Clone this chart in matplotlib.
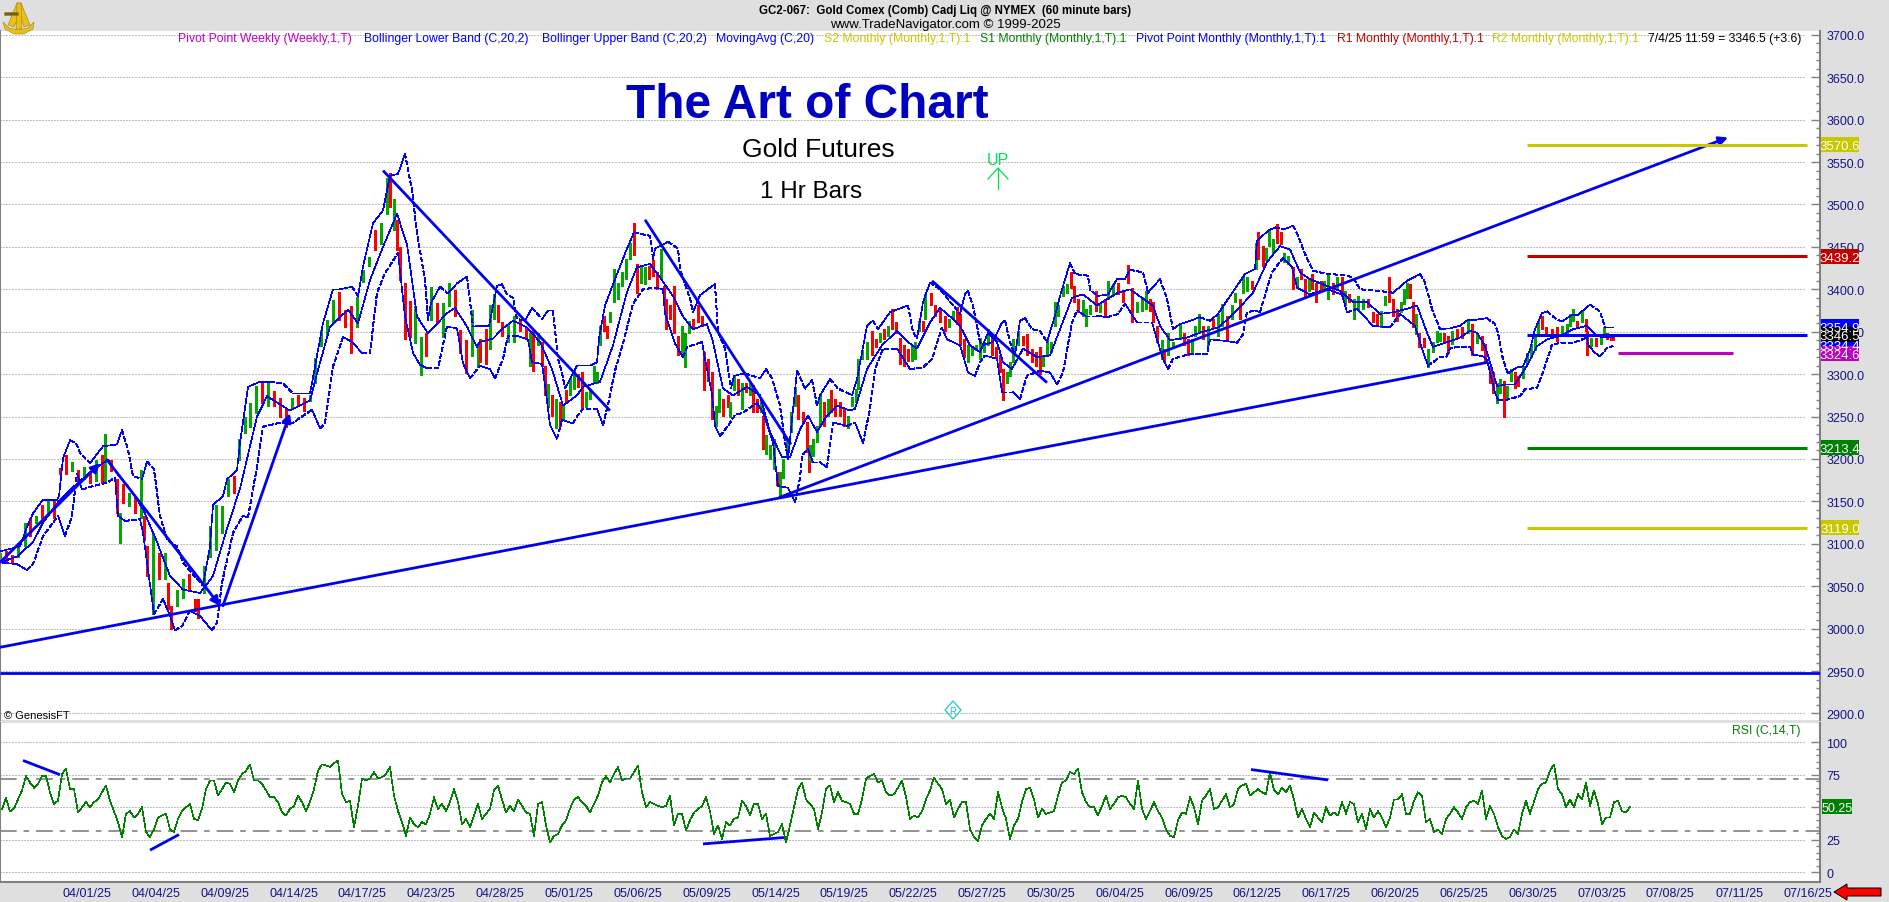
import matplotlib
matplotlib.use("Agg")
import matplotlib.pyplot as plt
from matplotlib.patches import Rectangle, Polygon, FancyArrowPatch
from matplotlib.transforms import Affine2D, blended_transform_factory

# ---------- DATA ----------
bar_no = [
 0,6,12,18,25,30,36,42,48,54, 60,66,72,78,84,90,96,102,105,111,
 117,120,123,129,135,141,144,147,153,159, 165,168,171,177,183,189,195,198,204,210,
 216,222,228,234,239,245,250,256,262,268, 274,280,286,292,298,304,310,315,321,327,
 333,339,345,351,357,363,369,375,381,387, 390,394,397,400,405,410,415,421,426,431,
 437,443,449,455,460,466,472,478,
 480,486,490,494,498,502,508,514,520,526, 530,533,538,542,545,548,552,556,560,563,
 566,570,574,578,582,586,590,594,597,600, 604,607,610,614,618,622,626,630,634,637,
 641,645,649,653,657,661,664,666,670,674, 678,682,685,689,693,698,702,704,708,712,
 716,719,723,728,730,734,738,742,746,750, 753,757,761,763,766,770,774,777,780,783,
 787,791,795,798,803,807,809,810,813,817, 820,824,828,831,835,840,844,848,852,856,
 858,862,867,872,876,880,884,888,892,896, 900,904,908,912,915,919,923,925,931,935,
 940,945,949,953,957,
 960,964,968,972,976,980,984,988,992,996, 1000,1003,1007,1010,1013,1018,1023,1027,1032,1036,
 1040,1043,1047,1051,1055,1058,1063,1067,1071,1074, 1078,1083,1086,1090,1096,1100,1105,1108,1113,1118,
 1123,1128,1132,1137,1142,1146,1150,1153,1157,1162, 1164,1168,1173,1180,1184,1188,1192,1195,1199,1203,
 1208,1213,1218,1222,1227,1232,1235,1240,1243,1247, 1252,1256,1258,1263,1266,1269,1273,1277,1281,1284,
 1288,1293,1297,1301,1305,1309,1312,1316,1321,1324, 1328,1333,1337,1342,1345,1349,1354,1358,1363,1368,
 1373,1377,1381,1385,1389,1393,1397,1401,1404,1407, 1410,1413,1416,1419,1424,1428,1433,1437,
 1440,1444,1448,1452,1457,1462,1468,1472,1477,1482, 1485,1490,1493,1497,1500,1504,1507,1511,1515,1518,
 1523,1527,1531,1535,1538,1542,1546,1552,1557,1562, 1567,1570,1573,1577,1582,1586,1587,1591,1596,1601,
 1604,1607,1611,1613,
]
high = [
 3089,3091,3087,3101,3125,3131,3133,3146,3152,3150, 3189,3205,3197,3187,3191,3186,3199,3205,3230,3199,
 3176,3136,3171,3160,3156,3187,3133,3097,3113,3089, 3089,3054,3027,3046,3058,3064,3035,3035,3074,3121,
 3146,3144,3176,3180,3223,3250,3266,3286,3291,3289, 3280,3272,3260,3272,3276,3272,3276,3319,3352,3364,
 3387,3397,3376,3380,3391,3423,3438,3470,3478,3531, 3537,3507,3482,3450,3407,3386,3380,3344,3348,3403,
 3384,3384,3407,3399,3352,3340,3376,3337,
 3341,3353,3381,3394,3381,3361,3359,3369,3363,3355, 3349,3353,3349,3338,3310,3288,3275,3271,3267,3263,
 3281,3296,3304,3300,3302,3279,3283,3310,3302,3357, 3369,3357,3373,3424,3408,3420,3436,3455,3478,3430,
 3428,3426,3428,3434,3420,3447,3404,3389,3381,3404, 3345,3357,3349,3363,3365,3381,3369,3326,3318,3302,
 3263,3283,3271,3275,3267,3298,3294,3290,3290,3290, 3287,3271,3271,3251,3228,3216,3224,3185,3185,3200,
 3224,3255,3285,3275,3255,3243,3208,3216,3224,3239, 3277,3267,3271,3281,3271,3267,3259,3251,3273,3283,
 3318,3328,3338,3351,3341,3349,3353,3357,3377,3361, 3343,3334,3330,3334,3338,3363,3363,3394,3396,3381,
 3377,3369,3365,3375,3379,
 3371,3341,3334,3332,3334,3343,3338,3353,3345,3332, 3322,3306,3302,3314,3341,3351,3345,3347,3330,3326,
 3332,3322,3340,3338,3385,3381,3404,3406,3420,3404, 3389,3387,3377,3381,3398,3383,3389,3410,3406,3408,
 3398,3429,3402,3385,3391,3398,3389,3385,3357,3340, 3330,3349,3338,3359,3349,3341,3341,3357,3371,3357,
 3357,3365,3371,3383,3369,3381,3396,3389,3414,3414, 3410,3455,3467,3451,3449,3469,3459,3477,3467,3443,
 3439,3426,3414,3424,3412,3412,3418,3408,3410,3410, 3418,3408,3414,3414,3398,3394,3389,3392,3389,3389,
 3373,3371,3375,3392,3414,3389,3377,3385,3400,3408, 3406,3385,3371,3349,3343,3330,3338,3351,
 3349,3349,3345,3351,3353,3355,3365,3359,3349,3345, 3335,3310,3302,3290,3294,3292,3286,3306,3302,3298,
 3310,3325,3335,3347,3363,3369,3355,3353,3355,3357, 3359,3371,3377,3363,3375,3365,3351,3343,3343,3345,
 3355,3349,3347,3344,
]
low = [
 3078,3078,3078,3085,3097,3109,3125,3131,3136,3131, 3182,3182,3186,3170,3176,3172,3174,3172,3172,3186,
 3136,3101,3148,3144,3136,3131,3105,3062,3017,3058, 3058,3023,2999,3027,3036,3046,3021,3013,3042,3085,
 3093,3113,3156,3160,3199,3231,3238,3254,3266,3262, 3262,3250,3238,3260,3262,3256,3268,3289,3333,3346,
 3360,3364,3356,3325,3356,3409,3427,3446,3454,3489, 3497,3470,3446,3411,3342,3344,3337,3299,3321,3364,
 3360,3344,3380,3368,3325,3301,3321,3309,
 3314,3312,3330,3365,3361,3345,3338,3338,3351,3341, 3310,3304,3334,3310,3275,3261,3251,3237,3239,3247,
 3267,3275,3283,3285,3259,3261,3271,3290,3290,3334, 3351,3343,3361,3385,3389,3404,3412,3436,3440,3396,
 3408,3406,3412,3416,3400,3412,3389,3353,3365,3349, 3322,3322,3308,3349,3353,3361,3357,3281,3292,3247,
 3239,3255,3251,3261,3249,3281,3275,3259,3279,3275, 3255,3255,3255,3212,3206,3200,3188,3169,3155,3177,
 3204,3232,3263,3247,3243,3208,3185,3196,3204,3220, 3239,3239,3251,3255,3251,3251,3239,3237,3263,3267,
 3283,3318,3318,3322,3332,3338,3341,3345,3353,3349, 3312,3310,3316,3316,3318,3351,3351,3365,3381,3369,
 3361,3351,3355,3365,3359,
 3334,3320,3314,3322,3328,3318,3326,3334,3322,3320, 3302,3269,3290,3298,3314,3334,3334,3322,3314,3310,
 3300,3310,3322,3326,3357,3369,3392,3396,3402,3385, 3373,3369,3357,3371,3375,3373,3369,3389,3394,3394,
 3385,3408,3361,3373,3375,3377,3375,3361,3338,3318, 3314,3322,3332,3341,3334,3322,3326,3345,3349,3341,
 3334,3355,3345,3357,3340,3365,3385,3365,3396,3398, 3400,3424,3436,3428,3434,3451,3443,3455,3453,3432,
 3430,3400,3402,3412,3390,3398,3400,3385,3400,3400, 3389,3394,3400,3392,3381,3385,3365,3377,3377,3379,
 3361,3357,3355,3381,3385,3369,3363,3373,3383,3390, 3390,3355,3347,3332,3332,3308,3326,3338,
 3339,3337,3325,3335,3343,3343,3349,3322,3337,3329, 3314,3290,3278,3266,3278,3249,3272,3292,3284,3286,
 3296,3312,3320,3329,3345,3353,3349,3344,3339,3349, 3347,3357,3363,3355,3361,3351,3322,3333,3333,3335,
 3347,3341,3340,3340,
]
bar_dir = "".join([
 "grrggrgrgr","rrgrgrgrgr","rgrgrgrrgr","grrggrrrgg","gggrggggrg","rrrgrrgggg","grrrgggrgg","rgrrrrggrg","rggrrrgg",
 "rrggrrggrr","grgrrgrgrg","rggrrggggg","rrggggggrr","ggrrrgrrrr","rgggrrrrrr","ggrrggrgrg","rrgrgggrgg","gggrrrrggg","grgrrrrggg","gggrrgrgrr","rrrgggrgrr","rrggr",
 "rrggggggrr","rrggggrrrr","rgggggggrr","rgggrgrggr","rrrgggrrrg","rgggrrgggr","grggrggrgg","rgrrgggrrg","grgrrgrrrg","grgrgrgggr","rrggrrrggg","rrgrrggg",
 "grrgrrgrgr","rrrggrggrr","gggggrrrrg","gggrgrrgrg","grrr",
])

upper_bar = [0,20,27,33,43,57,59,63,70,76,80,90,103,117,122,128,133,142,147,154,160,167,177,183,190,203,210,213,223,227,237,240,248,260,270,283,293,310,315,323,333,340,352,358,363,373,383,390,398,405,412,417,425,428,431,440,448,457,467,473,
 480,489,497,502,507,513,517,525,532,542,548,553,558,562,565,577,590,597,599,605,615,627,634,650,653,655,668,678,680,690,693,700,710,715,718,725,731,734,745,760,766,772,780,785,788,797,805,812,817,820,830,838,852,857,867,873,878,890,908,913,917,923,930,940,
 960,965,968,973,980,983,993,1002,1005,1010,1015,1020,1025,1032,1040,1047,1055,1060,1070,1075,1088,1090,1097,1108,1117,1125,1130,1143,1148,1160,1167,1173,1180,1200,1210,1218,1230,1237,1245,1255,1257,1268,1275,1285,1293,1298,1307,1313,1327,1343,1353,1360,1380,1393,1407,1420,1425,1432,
 1440,1450,1460,1468,1475,1487,1495,1498,1503,1508,1517,1523,1530,1535,1542,1547,1555,1562,1572,1578,1590,1600,1605,1613]
upper_val = [3091,3097,3120,3136,3152,3152,3156,3201,3222,3219,3207,3195,3215,3217,3234,3211,3180,3176,3197,3188,3133,3105,3097,3078,3068,3051,3097,3146,3156,3176,3187,3219,3285,3291,3291,3289,3277,3277,3309,3360,3400,3400,3403,3392,3427,3478,3493,3534,3536,3560,3517,3466,3411,3364,3384,3403,3395,3407,3415,3356,
 3357,3357,3404,3406,3394,3390,3365,3363,3378,3365,3375,3375,3318,3302,3283,3310,3310,3314,3342,3381,3412,3448,3467,3463,3436,3448,3456,3448,3424,3389,3373,3393,3402,3406,3350,3330,3283,3298,3301,3295,3306,3295,3263,3220,3200,3304,3283,3293,3263,3275,3294,3283,3275,3294,3357,3363,3353,3373,3381,3350,3342,3385,3408,3400,
 3371,3394,3398,3381,3338,3334,3338,3361,3363,3338,3322,3363,3366,3353,3351,3338,3369,3392,3431,3418,3416,3400,3392,3394,3412,3412,3423,3420,3396,3412,3389,3353,3359,3367,3363,3371,3392,3404,3418,3424,3457,3469,3473,3471,3475,3463,3436,3422,3418,3417,3414,3400,3398,3396,3410,3418,3408,3377,
 3353,3354,3357,3364,3364,3366,3359,3349,3317,3301,3308,3309,3329,3353,3372,3374,3366,3362,3370,3370,3382,3374,3355,3355]
lower_bar = [0,17,27,33,43,58,65,72,77,82,93,107,115,118,125,140,143,154,163,170,175,182,190,200,212,217,222,233,243,248,257,263,277,292,312,320,325,333,343,352,362,370,377,385,398,405,413,420,427,438,447,457,463,470,
 480,490,495,503,508,517,528,532,542,545,550,557,562,573,578,583,597,603,608,615,623,633,643,655,663,665,675,683,687,702,704,712,715,720,728,735,742,757,763,773,778,788,795,800,802,808,813,820,827,833,847,855,863,870,875,883,897,910,923,932,942,947,
 960,968,975,980,985,997,1002,1013,1020,1027,1040,1050,1057,1063,1072,1077,1085,1097,1107,1118,1125,1137,1152,1157,1163,1168,1173,1190,1207,1210,1227,1237,1243,1247,1255,1260,1262,1272,1283,1292,1297,1310,1327,1342,1347,1357,1373,1390,1400,1415,1422,1428,
 1440,1446,1450,1457,1470,1473,1483,1487,1490,1495,1498,1507,1520,1525,1537,1543,1552,1562,1573,1587,1588,1595,1600,1607,1613]
lower_val = [3078,3076,3069,3076,3109,3133,3109,3133,3183,3164,3168,3172,3178,3133,3127,3129,3113,3017,3035,3015,2998,3003,3021,3015,2998,3007,3054,3113,3133,3131,3191,3238,3242,3242,3258,3236,3242,3309,3344,3338,3325,3325,3396,3419,3443,3368,3325,3311,3307,3307,3356,3354,3313,3295,
 3310,3306,3295,3318,3345,3345,3341,3314,3312,3287,3240,3224,3246,3242,3252,3259,3259,3240,3264,3304,3336,3383,3400,3402,3400,3371,3336,3320,3332,3338,3324,3277,3239,3227,3239,3252,3254,3266,3255,3219,3168,3166,3149,3177,3204,3212,3196,3196,3190,3243,3239,3243,3219,3259,3306,3330,3330,3306,3308,3318,3355,3341,
 3334,3302,3298,3314,3322,3318,3279,3279,3271,3298,3304,3302,3288,3302,3361,3375,3369,3369,3367,3371,3383,3361,3361,3341,3318,3306,3318,3324,3324,3341,3339,3337,3347,3373,3375,3373,3381,3420,3437,3426,3402,3394,3400,3394,3373,3377,3357,3355,3371,3357,3330,3310,
 3320,3320,3330,3332,3332,3323,3321,3317,3302,3278,3270,3270,3274,3282,3284,3302,3335,3337,3337,3343,3335,3325,3321,3331,3333]
ma_bar = [0,17,33,43,60,77,93,108,117,128,143,157,170,183,200,213,227,240,257,267,290,310,318,330,348,358,370,383,397,407,417,428,447,455,467,477,
 480,493,503,513,527,540,552,563,577,583,600,613,627,637,650,660,673,683,693,707,713,723,733,747,760,770,782,790,800,808,817,827,837,850,855,867,882,897,908,917,930,940,950,
 960,970,980,988,997,1003,1012,1023,1037,1050,1060,1072,1083,1097,1108,1118,1130,1143,1153,1160,1170,1187,1200,1218,1230,1243,1253,1267,1280,1290,1300,1310,1327,1340,1353,1367,1380,1393,1407,1417,1427,1433,
 1440,1450,1460,1470,1477,1485,1490,1497,1507,1515,1527,1537,1547,1560,1573,1587,1597,1605,1613]
ma_val = [3078,3085,3102,3125,3152,3171,3187,3199,3183,3168,3141,3102,3062,3046,3042,3062,3118,3165,3250,3274,3257,3269,3305,3356,3376,3360,3411,3450,3489,3453,3368,3348,3372,3378,3356,3332,
 3338,3342,3354,3363,3355,3338,3306,3263,3275,3285,3291,3334,3397,3426,3430,3414,3392,3368,3353,3359,3338,3283,3275,3285,3275,3232,3202,3202,3235,3251,3232,3251,3263,3257,3259,3306,3334,3351,3338,3330,3361,3378,3368,
 3357,3334,3326,3349,3338,3314,3306,3330,3320,3322,3353,3390,3394,3381,3389,3396,3400,3389,3381,3357,3340,3343,3349,3355,3367,3383,3396,3432,3451,3447,3420,3412,3404,3398,3385,3385,3371,3373,3377,3381,3349,3332,
 3335,3339,3343,3351,3349,3333,3314,3286,3288,3288,3310,3333,3341,3345,3353,3357,3345,3343,3343]

rsi_step_bars = 4
rsi = [
 48.7,57,46.7,49,56,63,74,69,65,68,74,74,61.5,52.5,55,75.6,79.5,64,64,46,50,54,50,54,56,61.5,66.7,55,47,38.5,27,45,47,42,45,50,31,27,33,42,43.6,45,33,31,41,47,50,52.5,41,40,48.7,64,70.5,70.5,59,64,69,68,61.5,70.5,75.6,78,83,70.5,70.5,68,63,57.7,57.7,54,46,43.6,48.7,51,59,54,47,54,64,78,83,82,81,84,86,60,54,55,34.6,51,72,70.5,72,77,72,73,75.6,81,59,47,38.5,28,42,
 37,34.6,38.5,37,45,57.7,48.7,52.5,47,54,64,54,37,41,34.6,43.6,52.5,41,45,48.7,63,66.7,56,46,51,47,56,51,46,45,28,52.5,54,36,23,28,29.5,36,40,48.7,56,57.7,54,51,46,52.5,59,69,74,69,75.6,81,70.5,72,72,77,82,61.5,50,54,52.5,51,50,51,59,36,45,45,32,40,46,48.7,51,57.7,47,29.5,36,25.6,38.5,36,41,42,55,51,43.6,52.5,52.5,41,45,28,29.5,31,37,23,36,50,64,69,56,52.5,48.7,33,46,64,
 66.7,54,61.5,55,54,52.5,45,45,56,72,74,75.6,69,70.5,61.5,59,60,65,70.5,57.7,41,43.6,42,47,56,63,73,68,64,52.5,56,42,48.7,54,54,33,27,24,36,41,45,41,61.5,50,41,25.6,36,41,54,64,65,56,42,48.7,45,46,47,59,69,70.5,77,75.6,79.5,61.5,54,50,50,43.6,51,59,48.7,52.5,57.7,59,57.7,52.5,48.7,70.5,48.7,41,47,54,47,42,33,28,27,40,46,45,57.7,50,37,55,59,64,48.7,50,55,60,50,52.5,64,
 66.7,68,59,61.5,64,61.5,60,77,63,60,65,61.5,66.7,56,42,48.7,41,34.6,46,42,38.5,50,43.6,46,43.6,54,45,54,52.5,38.5,45,33,48.7,42,47,42,34.6,42,56,56,60,45,45,55,61.5,59,38.5,41,31,33,29.5,41,45,50,46,41,50,54,55,52.5,63,41,51,45,34.6,28,25.6,27,33,29.5,45,55,45,54,64,68,69,78,83,64,60,50,56,50,60,56,69,51,63,52.5,37,42,42,54,55,47,46,50.25,
]

date_labels = ["04/01/25","04/04/25","04/09/25","04/14/25","04/17/25","04/23/25","04/28/25","05/01/25","05/06/25","05/09/25","05/14/25","05/19/25","05/22/25","05/27/25","05/30/25","06/04/25","06/09/25","06/12/25","06/17/25","06/20/25","06/25/25","06/30/25","07/03/25","07/08/25","07/11/25","07/16/25"]
date_first_bar = 87
date_step_bars = 68.84

price_ticks = list(range(2900, 3701, 50))
rsi_ticks = [0, 25, 50, 75, 100]
rsi_bands = [31.5, 71.5]

level_names = ["R2", "R1", "PP", "S1", "S2"]
level_vals = [3570.6, 3439.2, 3346.0, 3213.4, 3119.0]
level_cols = ["#c8c800", "#c00000", "#0000ff", "#008000", "#c8c800"]
weekly_pivot = 3324.6
last_close = 3346.5
rsi_last = 50.25
bb_tags = [(3355.6, "3354.9"), (3335.5, "3334.4")]

# trend lines: bar0, price0, bar1, price1
trend_x0 = [0, 383, 645, 932, 0]
trend_y0 = [2978, 3540, 3482, 3410, 2948]
trend_x1 = [1488, 610, 791, 1047, 1820]
trend_y1 = [3314, 3257, 3217, 3290, 2948]
arrow_x0 = [780, 0, 107, 223]
arrow_y0 = [3155, 3078, 3199, 3027]
arrow_x1 = [1728, 100, 220, 290]
arrow_y1 = [3579, 3195, 3027, 3254]
rsi_tx0 = [23, 150, 703, 1251]
rsi_ty0 = [86, 17, 21.8, 79]
rsi_tx1 = [60, 179, 784, 1328]
rsi_ty1 = [75, 29, 26.7, 71]

legend_items = [
 ("Pivot Point Weekly (Weekly,1,T)", 178, "#c000c0"),
 ("Bollinger Lower Band (C,20,2)", 364, "#0000ff"),
 ("Bollinger Upper Band (C,20,2)", 542, "#0000ff"),
 ("MovingAvg (C,20)", 716, "#0000ff"),
 ("S2 Monthly (Monthly,1,T).1", 824, "#c8c800"),
 ("S1 Monthly (Monthly,1,T).1", 980, "#008000"),
 ("Pivot Point Monthly (Monthly,1,T).1", 1136, "#0000ff"),
 ("R1 Monthly (Monthly,1,T).1", 1337, "#c00000"),
 ("R2 Monthly (Monthly,1,T).1", 1492, "#c8c800"),
 ("7/4/25 11:59 = 3346.5 (+3.6)", 1648, "#000000"),
]

# ---------- LAYOUT ----------
W, H = 1890, 903
plt.rcParams["font.family"] = ["Liberation Sans", "DejaVu Sans"]
plt.rcParams["lines.scale_dashes"] = False
PANEL = "#dfdfdf"
GRID = "#808080"
NAVY = "#14148c"
BLUE = "#0000f0"
THIN = 0.45
fig = plt.figure(figsize=(W/100, H/100), dpi=100, facecolor=PANEL)
px = Affine2D().scale(1, -1).translate(0, H)

def axes_px(x0, y0, x1, y1):
    return fig.add_axes([x0/W, 1-y1/H, (x1-x0)/W, (y1-y0)/H])

ax = axes_px(0, 32, 1820, 721)
ar = axes_px(0, 724, 1820, 883)
ax.set_xlim(0, 1820); ar.set_xlim(0, 1820)
ax.set_ylim(2892.3, 3704.5)
ar.set_ylim(-7.5, 114.8)

for a in (ax, ar):
    a.set_facecolor("white")
    a.spines["top"].set_visible(False)
    a.spines["bottom"].set_visible(a is ar)
    for s in ("left", "right", "bottom"):
        a.spines[s].set_color(GRID)
        a.spines[s].set_linewidth(1.5)
    a.yaxis.tick_right()
    a.tick_params(axis="y", direction="in", length=6.5, width=1.0, color=GRID,
                  labelsize=9, labelcolor=NAVY, pad=4.5)

DOT = (0, (0.72, 1.44))
ax.hlines(price_ticks, 0, 1805, colors=GRID, linewidth=0.72, linestyles=[DOT], zorder=1)
ax.set_yticks(price_ticks)
ax.set_yticklabels([f"{v:.1f}" for v in price_ticks])
ax.set_yticks([v for v in range(2900, 3701, 10) if v % 50], minor=True)
ax.tick_params(axis="y", which="minor", direction="in", length=3, width=1.0, color=GRID)
ax.set_xticks([])

# bars
cols = ["#ff0000" if d == "r" else "#00a800" for d in bar_dir]
ax.vlines(bar_no, low, high, colors=cols, linewidth=2.0, antialiased=False, zorder=2)

def band(a, xs, ys, dash_when_falling):
    run_x, run_y, run_d = [xs[0]], [ys[0]], None
    def flush():
        if len(run_x) > 1:
            a.plot(run_x, run_y, color="#0000ff", lw=THIN, antialiased=False, zorder=3,
                   ls=(0, (3.2, 2.0)) if run_d else "-")
    for i in range(1, len(xs)):
        falling = ys[i] < ys[i-1]
        d = falling if dash_when_falling else not falling
        if run_d is None or d == run_d:
            run_d = d
        else:
            flush()
            run_x, run_y, run_d = [xs[i-1]], [ys[i-1]], d
        run_x.append(xs[i]); run_y.append(ys[i])
    flush()

band(ax, upper_bar, upper_val, True)
band(ax, lower_bar, lower_val, False)
ax.plot(ma_bar, ma_val, color="#0000ff", lw=THIN, antialiased=False, zorder=3)

# annotations
for x0, y0, x1, y1 in zip(trend_x0, trend_y0, trend_x1, trend_y1):
    ax.plot([x0, x1], [y0, y1], color=BLUE, lw=2.0, solid_capstyle="butt", zorder=4)
for x0, y0, x1, y1 in zip(arrow_x0, arrow_y0, arrow_x1, arrow_y1):
    ax.add_patch(FancyArrowPatch((x0, y0), (x1, y1), arrowstyle="-|>", mutation_scale=13,
                                 lw=2.0, color=BLUE, shrinkA=0, shrinkB=0, zorder=4))
for v, c in zip(level_vals, level_cols):
    ax.plot([1527, 1807], [v, v], color=c, lw=2.2, zorder=4, solid_capstyle="butt")
ax.plot([1618, 1733], [weekly_pivot]*2, color="#c000c0", lw=2.2, zorder=4, solid_capstyle="butt")

# value tags on the price axis
tag_tf = blended_transform_factory(ax.transAxes, ax.transData)
TAG_H = 15/0.8484
def tag(v, txt, c):
    ax.add_patch(Rectangle((1821/1820, v-TAG_H/2), 38/1820, TAG_H, transform=tag_tf,
                           facecolor=c, edgecolor="none", clip_on=False, zorder=6))
    ax.text(1840/1820, v, txt, transform=tag_tf, color="white", ha="center", va="center_baseline",
            fontsize=9.5, zorder=7, clip_on=False)
for v, t in bb_tags:
    tag(v, t, "#0000ff")
for v, c in zip(level_vals, level_cols):
    if v != 3346.0:
        tag(v, f"{v:.1f}", c)
tag(weekly_pivot, f"{weekly_pivot:.1f}", "#c000c0")
tag(last_close, f"{last_close:.1f}", "#000000")

# RSI panel
ar.hlines(rsi_ticks, 0, 1805, colors=GRID, linewidth=0.72, linestyles=[DOT], zorder=1)
ar.hlines(rsi_bands, 0, 1820, colors=GRID, linewidth=1.2, linestyles=[(0, (12, 5, 4, 5))], zorder=1)
ar.set_yticks(rsi_ticks)
ar.set_yticklabels([str(v) for v in rsi_ticks])
ar.set_yticks([v for v in range(0, 101, 5) if v % 25], minor=True)
ar.tick_params(axis="y", which="minor", direction="in", length=3, width=1.0, color=GRID)
ar.plot([2 + i*rsi_step_bars for i in range(len(rsi))], rsi, color="#008000", lw=THIN, antialiased=False, zorder=2)
for x0, y0, x1, y1 in zip(rsi_tx0, rsi_ty0, rsi_tx1, rsi_ty1):
    ar.plot([x0, x1], [y0, y1], color=BLUE, lw=2.0, solid_capstyle="butt", zorder=4)
ar.set_xticks([date_first_bar + i*date_step_bars for i in range(len(date_labels))])
ar.set_xticklabels(date_labels)
ar.tick_params(axis="x", length=0, labelsize=9, labelcolor=NAVY, pad=3.5)
rt = blended_transform_factory(ar.transAxes, ar.transData)
ar.add_patch(Rectangle((1822/1820, rsi_last-5.8), 30/1820, 11.6, transform=rt, facecolor="#008000",
                       edgecolor="none", clip_on=False, zorder=6))
ar.text(1837/1820, rsi_last, f"{rsi_last:.2f}", transform=rt, color="white", ha="center",
        va="center_baseline", fontsize=9, clip_on=False, zorder=7)

# texts in pixel space
def ptext(x, y, s, **kw):
    kw.setdefault("va", "center_baseline")
    return fig.text(x, y, s, transform=px, **kw)

for s, x, c in legend_items:
    ptext(x, 38, s, color=c, fontsize=8.8, ha="left", zorder=10)
ptext(945, 10, "GC2-067:  Gold Comex (Comb) Cadj Liq @ NYMEX  (60 minute bars)", fontsize=8.3,
      fontweight="bold", ha="center", color="black")
ptext(945, 24, "www.TradeNavigator.com © 1999-2025", fontsize=9.5, ha="center", color="black")
ptext(807, 101, "The Art of Chart", fontsize=34.5, fontweight="bold", ha="center", color="#0000c0")
ptext(818, 148, "Gold Futures", fontsize=19, ha="center", color="black")
ptext(811, 190, "1 Hr Bars", fontsize=17.5, ha="center", color="black")
ptext(998, 159, "UP", fontsize=11.5, ha="center", color="#00e050")
ptext(4, 715, "© GenesisFT", fontsize=8, ha="left", color="black")
ptext(1801, 730, "RSI (C,14,T)", fontsize=8.8, ha="right", color="#008000")

# UP arrow, diamond, red arrow, logo
fig.add_artist(plt.Line2D([998, 998], [190, 169], transform=px, color="#00e050", lw=0.9))
fig.add_artist(plt.Line2D([988, 998, 1008], [180, 169, 180], transform=px, color="#00e050", lw=0.9))
fig.add_artist(Polygon([[953, 702], [961, 711], [953, 720], [945, 711]], closed=True, fill=False,
                       edgecolor="#20c8c8", lw=0.9, transform=px))
ptext(953, 711, "R", fontsize=7, ha="center", color="#20c8c8")
fig.add_artist(Polygon([[1834, 893], [1847, 885], [1847, 889], [1881, 889], [1881, 897], [1847, 897], [1847, 901]],
                       closed=True, facecolor="#ff0000", edgecolor="black", lw=0.7, transform=px))
GOLD = "#e8c018"
for pts, fc in [
    ([[3, 23], [9, 29], [18, 31], [28, 29], [34, 23], [33, 30], [24, 35], [14, 35], [5, 30]], GOLD),
    ([[17, 4], [21, 4], [30, 26], [24, 28], [20, 15], [14, 28], [8, 26]], GOLD),
    ([[17, 4], [21, 4], [22, 30], [16, 30]], GOLD),
    ([[4, 13], [18, 13], [18, 16], [4, 16]], "#706010"),
]:
    p = Polygon(pts, closed=True, facecolor=fc, edgecolor="#a08010", lw=0.4, transform=px, zorder=20)
    fig.add_artist(p)

fig.savefig("out.png", dpi=100, facecolor=fig.get_facecolor())
